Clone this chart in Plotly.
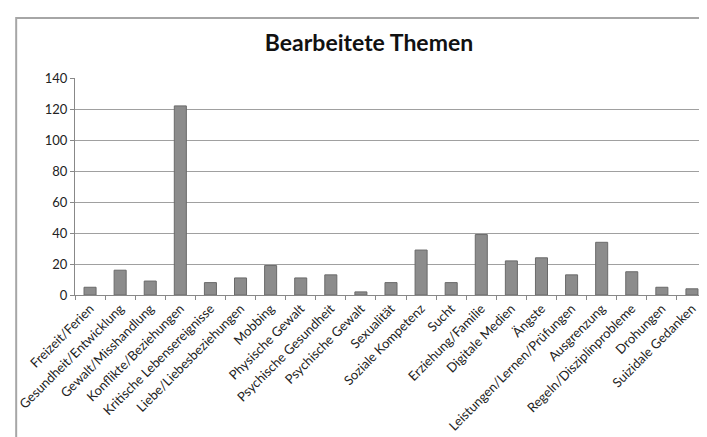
import plotly.graph_objects as go

categories = [
    "Freizeit/Ferien", "Gesundheit/Entwicklung", "Gewalt/Misshandlung",
    "Konflikte/Beziehungen", "Kritische Lebensereignisse", "Liebe/Liebesbeziehungen",
    "Mobbing", "Physische Gewalt", "Psychische Gesundheit", "Psychische Gewalt",
    "Sexualität", "Soziale Kompetenz", "Sucht", "Erziehung/Familie",
    "Digitale Medien", "Ängste", "Leistungen/Lernen/Prüfungen", "Ausgrenzung",
    "Regeln/Disziplinprobleme", "Drohungen", "Suizidale Gedanken",
]
values = [5, 16, 9, 122, 8, 11, 19, 11, 13, 2, 8, 29, 8, 39, 22, 24, 13, 34, 15, 5, 4]
y_ticks = [0, 20, 40, 60, 80, 100, 120, 140]

W, H = 707, 437
L, R, T, B = 65, 8, 70, 150
pw, ph = W - L - R, H - T - B

fig = go.Figure(go.Bar(
    x=categories, y=values,
    marker=dict(color="#8c8c8c", line=dict(color="#6a6a6a", width=1)),
))

def px_x(p):
    return (p - L) / pw

def px_y(p):
    return (H - B - p) / ph

fig.add_shape(type="rect", xref="paper", yref="paper",
              x0=px_x(6), x1=px_x(712), y0=px_y(442), y1=px_y(10),
              line=dict(color="#a6a6a6", width=2), fillcolor="rgba(0,0,0,0)", layer="below")

fig.update_layout(
    width=W, height=H,
    margin=dict(l=L, r=R, t=T, b=B),
    paper_bgcolor="white", plot_bgcolor="white",
    font=dict(family="Lato, Open Sans, sans-serif", color="#222222", size=13),
    title=dict(text="<b>Bearbeitete Themen</b>", x=(361) / W, xanchor="center",
               y=1 - 35 / H, yanchor="middle",
               font=dict(family="Lato, sans-serif", size=23, color="#111111")),
    bargap=0.6,
    showlegend=False,
    xaxis=dict(
        type="category", tickangle=-45, ticks="outside", tickson="boundaries",
        ticklen=4, tickcolor="#888888", showline=True, linecolor="#888888", linewidth=1,
        showgrid=False, tickfont=dict(size=13, color="#222222"),
    ),
    yaxis=dict(
        range=[0, 140], tickvals=y_ticks, ticks="outside", ticklen=4, tickcolor="#888888",
        showline=True, linecolor="#888888", linewidth=1,
        showgrid=True, gridcolor="#a0a0a0", gridwidth=1, zeroline=False,
        tickfont=dict(size=13, color="#222222"),
    ),
)

fig.write_html("out.html")
